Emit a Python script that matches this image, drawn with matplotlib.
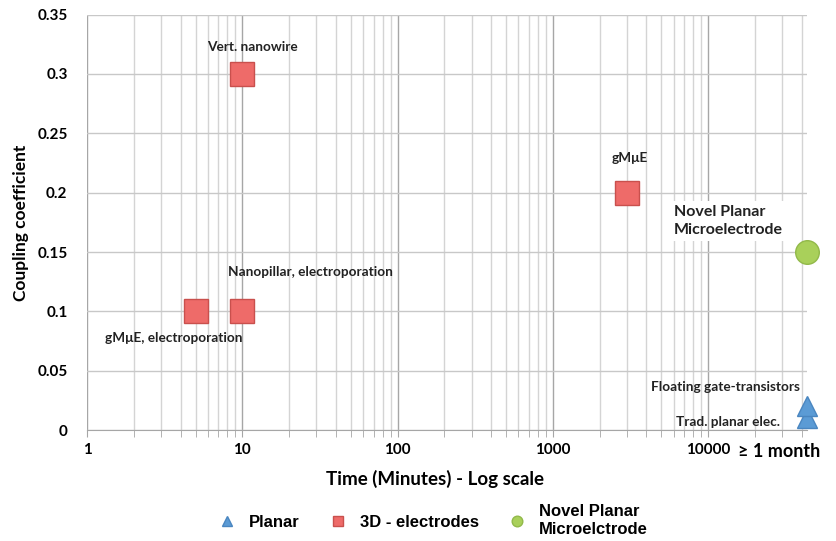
import matplotlib
matplotlib.use("Agg")
import matplotlib.pyplot as plt
from matplotlib.ticker import FixedLocator, LogLocator, NullFormatter

plt.rcParams['font.family'] = ['Lato', 'DejaVu Sans']

MONTH = 43200  # minutes in a month

# data
planar_x = [MONTH, MONTH]
planar_y = [0.01, 0.02]
planar_labels = ["Trad. planar elec.", "Floating gate-transistors"]

e3d_x = [5, 10, 10, 3000]
e3d_y = [0.1, 0.1, 0.3, 0.2]
e3d_labels = ["gMμE, electroporation", "Nanopillar, electroporation",
              "Vert. nanowire", "gMμE"]

novel_x = [MONTH]
novel_y = [0.15]
novel_labels = ["Novel Planar\nMicroelectrode"]

y_ticks = [0, 0.05, 0.1, 0.15, 0.2, 0.25, 0.3, 0.35]
y_tick_labels = ["0", "0.05", "0.1", "0.15", "0.2", "0.25", "0.3", "0.35"]
x_ticks = [1, 10, 100, 1000, 10000]
x_tick_labels = ["1", "10", "100", "1000", "10000"]

fig = plt.figure(figsize=(8.37, 5.41), dpi=100)
ax = fig.add_axes([0.104, 0.205, 0.860, 0.768])

ax.set_xscale("log")
ax.set_xlim(1, MONTH)
ax.set_ylim(0, 0.35)

ax.xaxis.set_major_locator(FixedLocator(x_ticks))
ax.set_xticklabels(x_tick_labels)
ax.xaxis.set_minor_locator(LogLocator(base=10, subs=range(2, 10), numticks=20))
ax.xaxis.set_minor_formatter(NullFormatter())
ax.set_yticks(y_ticks)
ax.set_yticklabels(y_tick_labels)

ax.grid(True, which="major", axis="x", color="#a6a6a6", lw=1.0)
ax.grid(True, which="minor", axis="x", color="#d4d4d4", lw=1.0)
ax.grid(True, which="major", axis="y", color="#c8c8c8", lw=1.0)
ax.set_axisbelow(True)

for s in ["top", "right", "left"]:
    ax.spines[s].set_visible(False)
ax.spines["bottom"].set_color("#a6a6a6")
ax.tick_params(axis="y", length=0, labelsize=11, pad=14)
ax.tick_params(axis="x", which="major", length=5, color="#a6a6a6", labelsize=11, pad=4)
ax.tick_params(axis="x", which="minor", length=5, color="#a6a6a6")
for t in ax.get_xticklabels() + ax.get_yticklabels():
    t.set_fontweight("bold")

ax.plot(planar_x, planar_y, "^", ms=15, color="#5b9bd5", mec="#4a86c0",
        clip_on=False, zorder=5, label="Planar")
ax.plot(e3d_x, e3d_y, "s", ms=17, color="#ee6b69", mec="#c9504d",
        clip_on=False, zorder=5, label="3D - electrodes")
ax.plot(novel_x, novel_y, "o", ms=17, color="#a9d05a", mec="#92b94a",
        clip_on=False, zorder=5, label="Novel Planar\nMicroelctrode")

lab = dict(textcoords="offset pixels", ha="left", va="center",
           fontsize=9.8, fontweight="bold", color="#222222", zorder=4)
ax.annotate(e3d_labels[0], (e3d_x[0], e3d_y[0]), xytext=(-91, -27), **lab)
ax.annotate(e3d_labels[1], (e3d_x[1], e3d_y[1]), xytext=(-14, 39), **lab)
ax.annotate(e3d_labels[2], (e3d_x[2], e3d_y[2]), xytext=(-35, 27), **lab)
ax.annotate(e3d_labels[3], (e3d_x[3], e3d_y[3]), xytext=(-15, 35), **lab)
ax.annotate(planar_labels[1], (planar_x[1], planar_y[1]), xytext=(-156, 19), **lab)
ax.annotate(planar_labels[0], (planar_x[0], planar_y[0]), xytext=(-131, -4), **lab)
ax.annotate(novel_labels[0], (novel_x[0], novel_y[0]), xytext=(-133, 31),
            textcoords="offset pixels", ha="left", va="center", fontsize=11.5,
            fontweight="bold", color="#222222", linespacing=1.3, zorder=4,
            bbox=dict(boxstyle="square,pad=0.3", fc="white", ec="none"))

ax.text(0.962, -0.03, "≥ 1 month", transform=ax.transAxes, ha="center",
        va="top", fontsize=13, fontweight="bold")

ax.set_xlabel("Time (Minutes) - Log scale", fontsize=13.5, fontweight="bold",
              labelpad=7)
ax.xaxis.set_label_coords(0.483, -0.095)
ax.set_ylabel("Coupling coefficient", fontsize=12.5, fontweight="bold",
              labelpad=6)

leg = ax.legend(loc="center", bbox_to_anchor=(0.478, -0.218), ncol=3,
                frameon=False, markerscale=0.45,
                prop={"family": "Liberation Sans", "weight": "bold", "size": 12},
                handlelength=1.5, handletextpad=0.6, columnspacing=1.5)

fig.savefig("out.png", dpi=100)
